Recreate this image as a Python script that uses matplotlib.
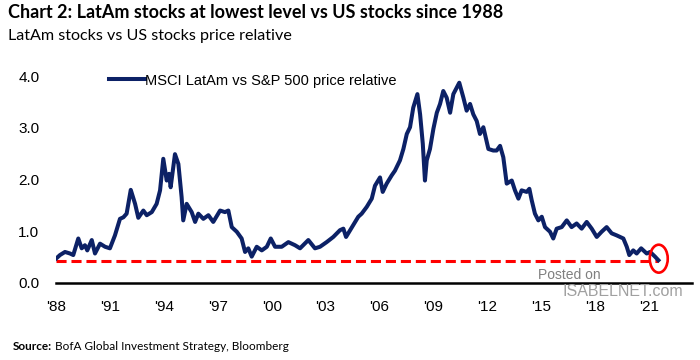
import matplotlib
matplotlib.use("Agg")
import matplotlib.pyplot as plt
from matplotlib.patches import Ellipse

# ---- data (decimal year, price relative) ----
years = [1988.00, 1988.22, 1988.50, 1988.78, 1988.96, 1989.24, 1989.43, 1989.61, 1989.74, 1989.99,
         1990.17, 1990.45, 1990.73, 1991.00, 1991.28, 1991.56, 1991.75, 1991.93, 1992.16, 1992.40,
         1992.58, 1992.86, 1993.05, 1993.33, 1993.60, 1993.79, 1993.97, 1994.16, 1994.29, 1994.38,
         1994.62, 1994.81, 1994.99, 1995.08, 1995.27, 1995.55, 1995.74, 1995.92, 1996.20, 1996.48,
         1996.75, 1997.13, 1997.40, 1997.59, 1997.78, 1998.06, 1998.33, 1998.52, 1998.70, 1998.89,
         1999.17, 1999.45, 1999.73, 1999.95, 2000.19, 2000.56, 2000.93, 2001.30, 2001.58, 2002.04,
         2002.41, 2002.69, 2003.06, 2003.43, 2003.80, 2003.99, 2004.14, 2004.54, 2004.82, 2005.01,
         2005.29, 2005.57, 2005.75, 2006.03, 2006.18, 2006.40, 2006.68, 2006.86, 2007.14, 2007.33,
         2007.52, 2007.70, 2007.88, 2008.11, 2008.26, 2008.41, 2008.53, 2008.63, 2008.81, 2009.00,
         2009.19, 2009.37, 2009.55, 2009.74, 2009.93, 2010.11, 2010.44, 2010.67, 2010.85, 2011.04,
         2011.22, 2011.41, 2011.59, 2011.78, 2012.06, 2012.33, 2012.52, 2012.71, 2012.89, 2013.08,
         2013.36, 2013.54, 2013.73, 2013.91, 2014.19, 2014.34, 2014.47, 2014.65, 2014.84, 2015.03,
         2015.21, 2015.49, 2015.67, 2015.86, 2016.14, 2016.42, 2016.69, 2016.97, 2017.25, 2017.53,
         2017.81, 2018.09, 2018.36, 2018.64, 2018.92, 2019.20, 2019.57, 2019.76, 2019.90, 2020.12,
         2020.31, 2020.56, 2020.87, 2021.06, 2021.33, 2021.52]
values = [0.47, 0.54, 0.60, 0.57, 0.54, 0.86, 0.67, 0.73, 0.63, 0.83,
          0.57, 0.76, 0.70, 0.67, 0.92, 1.24, 1.27, 1.34, 1.80, 1.53,
          1.26, 1.40, 1.31, 1.37, 1.53, 1.79, 2.40, 1.98, 2.11, 1.85,
          2.49, 2.30, 1.66, 1.21, 1.53, 1.37, 1.18, 1.34, 1.24, 1.31,
          1.18, 1.40, 1.37, 1.40, 1.08, 0.99, 0.86, 0.60, 0.67, 0.51,
          0.70, 0.63, 0.70, 0.86, 0.70, 0.70, 0.79, 0.73, 0.67, 0.83,
          0.67, 0.70, 0.79, 0.89, 1.02, 1.05, 0.89, 1.12, 1.28, 1.34,
          1.47, 1.63, 1.88, 2.04, 1.76, 1.92, 2.08, 2.17, 2.37, 2.59,
          2.88, 3.01, 3.39, 3.65, 3.26, 2.69, 1.98, 2.37, 2.59, 2.98,
          3.29, 3.46, 3.71, 3.58, 3.29, 3.65, 3.87, 3.58, 3.33, 3.46,
          3.26, 3.13, 2.88, 3.01, 2.59, 2.56, 2.56, 2.65, 2.43, 1.92,
          1.98, 1.79, 1.63, 1.79, 1.76, 1.82, 1.60, 1.34, 1.21, 1.28,
          1.08, 0.99, 0.86, 1.05, 1.08, 1.21, 1.08, 1.15, 1.05, 1.18,
          1.05, 0.89, 0.99, 1.08, 0.96, 0.92, 0.86, 0.70, 0.54, 0.63,
          0.57, 0.67, 0.57, 0.60, 0.51, 0.44]
low_level = 0.43
yticks = [0.0, 1.0, 2.0, 3.0, 4.0]
xtick_years = [1988, 1991, 1994, 1997, 2000, 2003, 2006, 2009, 2012, 2015, 2018, 2021]
xtick_labels = ["'88", "'91", "'94", "'97", "'00", "'03", "'06", "'09", "'12", "'15", "'18", "'21"]
series_label = "MSCI LatAm vs S&P 500 price relative"

NAVY = "#0c2166"
RED = "#ff0000"

fig = plt.figure(figsize=(7.0, 3.6), dpi=100)
ax = fig.add_axes([56/700, 1-283/360, (692-56)/700, (283-76)/360])

ax.plot(years, values, color=NAVY, lw=2.9, solid_joinstyle="round", label=series_label, zorder=3)
ax.plot([years[0], years[-1]], [low_level, low_level], color=RED, lw=2.2,
        dashes=(3.3, 1.6), zorder=2)
ax.add_patch(Ellipse((years[-1] + 0.02, values[-1] + 0.03), width=1.0, height=0.54,
                     fill=False, edgecolor=RED, lw=1.9, zorder=4, clip_on=False))

ax.set_xlim(1988, 2023.39)
ax.set_ylim(0, 4.0)
ax.set_yticks(yticks)
ax.set_yticklabels([f"{v:.1f}" for v in yticks])
ax.set_xticks(xtick_years)
ax.set_xticklabels(xtick_labels)
for s in ["top", "right", "left"]:
    ax.spines[s].set_visible(False)
ax.spines["bottom"].set_linewidth(1.8)
ax.spines["bottom"].set_color("black")
ax.tick_params(axis="both", length=0, labelsize=11, labelcolor="black")
ax.tick_params(axis="y", pad=12)
ax.tick_params(axis="x", pad=12)
for lab in ax.get_xticklabels() + ax.get_yticklabels():
    lab.set_fontfamily("Liberation Sans")

leg = ax.legend(loc="upper left", bbox_to_anchor=(0.074, 1.04), frameon=False,
                handlelength=2.45, handletextpad=0.05, borderaxespad=0,
                prop={"family": "Liberation Sans", "size": 10.5})

fig.text(8/700, 1-4/360, "Chart 2: LatAm stocks at lowest level vs US stocks since 1988",
         fontsize=13, fontweight="bold", family="Lato", va="top", ha="left")
fig.text(8/700, 1-29/360, "LatAm stocks vs US stocks price relative",
         fontsize=11.6, family="Lato", va="top", ha="left")

src_bold = fig.text(13/700, 1-347/360, "Source:", fontsize=8.5, fontweight="bold", family="Lato",
                    va="center", ha="left")
fig.canvas.draw()
bb = src_bold.get_window_extent(renderer=fig.canvas.get_renderer())
fig.text((bb.x1 + 3)/700, 1-347/360, "BofA Global Investment Strategy, Bloomberg", fontsize=8.5,
         family="Lato", va="center", ha="left")

# watermark
fig.text(538/700, 1-275/360, "Posted on", fontsize=10, color="#7f7f7f",
         family="Liberation Sans", va="center", ha="left")
fig.text(562/700, 1-292/360, "ISABELNET.com", fontsize=11.5, color="#a0a0a0",
         family="Liberation Sans", va="center", ha="left")

fig.savefig("out.png", dpi=100)
